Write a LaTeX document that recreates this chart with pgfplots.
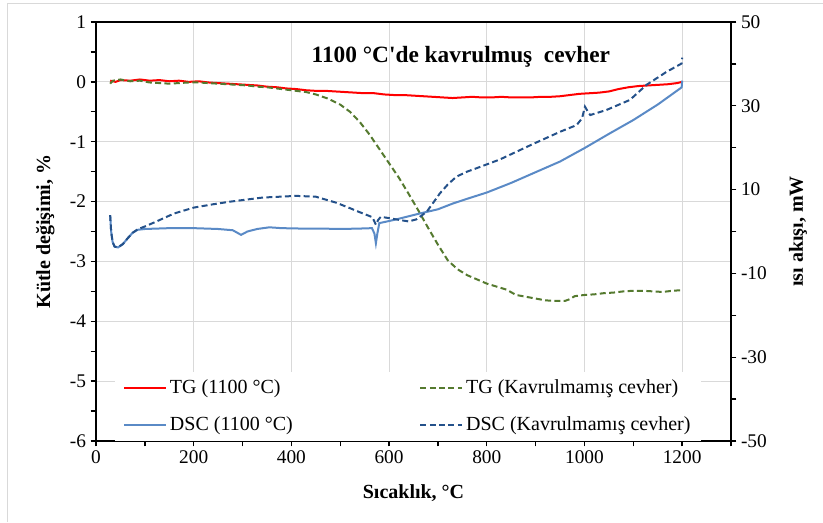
\documentclass[border=0pt]{standalone}
\usepackage{fontspec}
\setmainfont[Ligatures=TeXOff]{Liberation Serif}
\usepackage{pgfplots}
\pgfplotsset{compat=1.18}

\definecolor{tgred}{RGB}{255,0,0}
\definecolor{tggreen}{RGB}{85,122,47}
\definecolor{dscblue}{RGB}{90,138,198}
\definecolor{dscdark}{RGB}{36,81,138}
\definecolor{gridgray}{RGB}{217,217,217}

\pgfplotsset{
  every axis/.append style={
    scale only axis, width=476.25pt, height=314.25pt,
    xmin=0, xmax=1300,
    tick align=outside,
    major tick length=4pt, minor tick length=4pt,
    every tick/.style={black, line width=1pt},
    tick label style={font=\fontsize{14.5}{17}\selectfont},
    label style={font=\bfseries\fontsize{15}{18}\selectfont},
  },
  tgline/.style={tgred, line width=1.5pt},
  tgkav/.style={tggreen, line width=1.5pt, dash pattern=on 4.5pt off 2.5pt},
  dscline/.style={dscblue, line width=1.5pt},
  dsckav/.style={dscdark, line width=1.5pt, dash pattern=on 4.5pt off 2.5pt},
}

\begin{document}
\begin{tikzpicture}
\useasboundingbox (-72pt,-60.75pt) rectangle (545.25pt,330.75pt);
\draw[gridgray, line width=0.75pt] (-66pt,-60.75pt) -- (-66pt,327.75pt) -- (545.25pt,327.75pt);

% left axis: mass change
\begin{axis}[
  ymin=-6, ymax=1,
  axis line style={black, line width=1.5pt},
  xtick pos=bottom, ytick pos=left,
  xtick={0,200,400,600,800,1000,1200},
  xticklabels={0,200,400,600,800,1000,1200},
  minor xtick={100,300,500,700,900,1100,1300},
  ytick={-6,-5,-4,-3,-2,-1,0,1},
  yticklabels={-6,-5,-4,-3,-2,-1,0,1},
  minor ytick={-5.5,-4.5,-3.5,-2.5,-1.5,-0.5,0.5},
  xmajorgrids, ymajorgrids,
  major grid style={gridgray, line width=0.75pt},
  xlabel={Sıcaklık, °C},
  ylabel={Kütle değişimi, \%},
  xlabel style={at={(axis description cs:0.5,-0.124)}, anchor=center},
  ylabel style={at={(axis description cs:-0.0798,0.5)}, anchor=center},
]
\addplot[tgline] coordinates {
(29,0.02)(40,0.0)(50,0.03)(70,0.02)(90,0.04)(110,0.02)(130,0.03)(150,0.01)
(170,0.02)(190,0.0)(210,0.01)(230,-0.01)(250,-0.02)(270,-0.03)(290,-0.04)
(310,-0.05)(330,-0.06)(350,-0.08)(370,-0.09)(390,-0.11)(410,-0.12)(430,-0.14)
(450,-0.15)(470,-0.15)(490,-0.16)(510,-0.17)(530,-0.18)(550,-0.19)(570,-0.19)
(590,-0.21)(610,-0.22)(630,-0.22)(650,-0.23)(670,-0.24)(690,-0.25)(710,-0.26)
(730,-0.27)(750,-0.26)(770,-0.25)(790,-0.26)(810,-0.26)(830,-0.25)(850,-0.26)
(870,-0.26)(890,-0.26)(910,-0.25)(930,-0.25)(950,-0.24)(970,-0.22)(990,-0.2)
(1010,-0.19)(1030,-0.18)(1050,-0.16)(1070,-0.12)(1090,-0.09)(1110,-0.07)
(1130,-0.06)(1150,-0.05)(1170,-0.04)(1190,-0.02)(1200,0.0)
};
\addplot[tgkav] coordinates {
(29,-0.03)(35,0.02)(50,0.04)(70,0.01)(90,0.02)(110,-0.01)(130,-0.02)(150,-0.03)
(170,-0.02)(190,-0.01)(210,-0.01)(230,-0.02)(250,-0.03)(270,-0.04)(290,-0.05)
(310,-0.06)(330,-0.08)(350,-0.09)(370,-0.11)(390,-0.13)(410,-0.15)(430,-0.17)
(450,-0.21)(475,-0.28)(500,-0.38)(520,-0.5)(540,-0.67)(560,-0.88)(580,-1.12)
(600,-1.36)(620,-1.6)(640,-1.87)(660,-2.15)(680,-2.44)(700,-2.72)(720,-2.98)
(740,-3.13)(760,-3.23)(780,-3.3)(800,-3.37)(820,-3.42)(840,-3.47)(860,-3.56)
(880,-3.59)(900,-3.62)(920,-3.65)(940,-3.66)(960,-3.66)(970,-3.63)(980,-3.58)
(1000,-3.56)(1020,-3.55)(1040,-3.53)(1060,-3.52)(1080,-3.5)(1100,-3.49)
(1120,-3.49)(1140,-3.5)(1160,-3.51)(1180,-3.49)(1200,-3.48)
};
\node[font=\bfseries\fontsize{17.5}{20}\selectfont] at (axis cs:747,0.42) {1100 °C'de kavrulmuş\ \ cevher};
\end{axis}

% right axis: heat flow
\begin{axis}[
  ymin=-50, ymax=50,
  axis x line=none,
  axis y line*=right,
  y axis line style={black, line width=1.5pt},
  ytick={-50,-30,-10,10,30,50},
  yticklabels={-50,-30,-10,10,30,50},
  minor ytick={-40,-20,0,20,40},
  ylabel={ısı akışı, mW},
  ylabel style={at={(axis description cs:1.1055,0.5)}, anchor=center},
  legend columns=2,
  legend cell align=left,
  legend style={draw=none, fill=white, at={(rel axis cs:0.03,0)}, anchor=south west,
    font=\fontsize{15}{18}\selectfont, inner xsep=6pt, inner ysep=4pt,
    /tikz/row sep=12pt, /tikz/column 2/.style={column sep=93pt}},
  legend image code/.code={\draw[#1] (0pt,0pt) -- (31.5pt,0pt);},
]
\addlegendimage{tgline}
\addlegendentry{TG (1100 °C)}
\addlegendimage{tgkav}
\addlegendentry{TG (Kavrulmamış cevher)}
\addplot[dscline] coordinates {
(29,3.9)(31,0)(34,-2.5)(38,-3.6)(45,-3.8)(55,-3.0)(65,-1.6)(75,-0.3)(85,0.4)
(100,0.6)(150,0.8)(200,0.8)(250,0.6)(280,0.3)(297,-0.8)(310,0.0)(330,0.6)
(355,1.0)(380,0.8)(420,0.7)(460,0.7)(500,0.6)(540,0.7)(565,0.8)(570,-0.5)
(573,-2.8)(576,-0.5)(580,2.0)(600,2.5)(622,3.1)(663,4.3)(700,5.3)(731,6.7)
(765,8.0)(800,9.3)(850,11.6)(895,13.9)(950,16.7)(1000,19.9)(1050,23.3)
(1100,26.6)(1150,30.3)(1199,34.4)(1200,36)
};
\addlegendentry{DSC (1100 °C)}
\addplot[dsckav] coordinates {
(29,3.9)(31,0)(34,-2.5)(38,-3.6)(45,-3.8)(55,-3.0)(65,-1.6)(75,-0.3)(85,0.5)
(100,1.2)(120,2.2)(137,3.1)(160,4.3)(200,5.7)(240,6.5)(273,7.1)(341,8.1)
(410,8.5)(450,8.3)(491,6.9)(515,5.8)(538,4.7)(566,3.4)(573,1.6)(578,2.8)
(583,3.5)(600,3.2)(614,2.9)(640,2.4)(656,2.9)(677,4.7)(690,6.8)(704,9.1)
(720,11.2)(738,13.1)(760,14.3)(779,15.1)(827,17.2)(895,20.9)(950,23.8)
(984,25.4)(995,27)(1001,29.8)(1008,28.4)(1012,27.8)(1045,29)(1093,31.4)
(1127,35)(1168,38.1)(1199,40.1)(1200,41.5)
};
\addlegendentry{DSC (Kavrulmamış cevher)}
\end{axis}
\end{tikzpicture}
\end{document}
